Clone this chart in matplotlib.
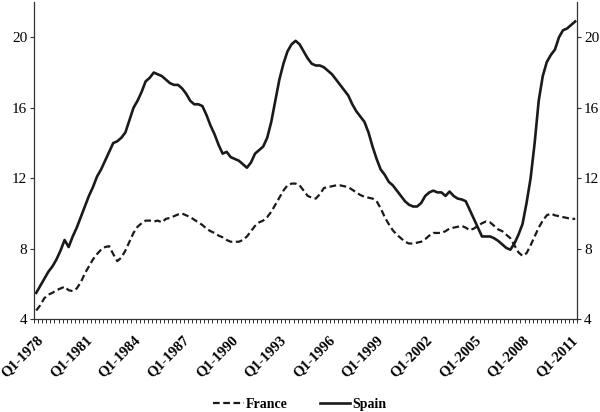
#!/usr/bin/env python3
"""Unemployment rate, France vs Spain, quarterly 1978-2011."""

import matplotlib

matplotlib.use("Agg")
import matplotlib.pyplot as plt
from matplotlib.ticker import FixedLocator, MultipleLocator

START_YEAR = 1978
LABEL_EVERY = 12  # quarters

spain = [
    5.5, 5.9, 6.3, 6.7, 7.0, 7.4, 7.9, 8.5, 8.1, 8.7,
    9.2, 9.8, 10.4, 11.0, 11.5, 12.1, 12.5, 13.0, 13.5, 14.0,
    14.1, 14.3, 14.6, 15.3, 16.0, 16.4, 16.9, 17.5, 17.7, 18.0,
    17.9, 17.8, 17.6, 17.4, 17.3, 17.3, 17.1, 16.8, 16.4, 16.2,
    16.2, 16.1, 15.6, 15.0, 14.5, 13.9, 13.4, 13.5, 13.2, 13.1,
    13.0, 12.8, 12.6, 12.9, 13.4, 13.6, 13.8, 14.3, 15.2, 16.4,
    17.6, 18.5, 19.2, 19.6, 19.8, 19.6, 19.2, 18.8, 18.5, 18.4,
    18.4, 18.3, 18.1, 17.9, 17.6, 17.3, 17.0, 16.7, 16.2, 15.8,
    15.5, 15.2, 14.6, 13.8, 13.1, 12.5, 12.2, 11.8, 11.6, 11.3,
    11.0, 10.7, 10.5, 10.4, 10.4, 10.6, 11.0, 11.2, 11.3, 11.2,
    11.2, 11.0, 11.25, 11.0, 10.85, 10.8, 10.7, 10.2, 9.7, 9.2,
    8.7, 8.7, 8.7, 8.6, 8.45, 8.25, 8.05, 7.95, 8.3, 8.8,
    9.4, 10.6, 12.0, 14.0, 16.4, 17.8, 18.6, 19.0, 19.3, 20.0,
    20.4, 20.5, 20.7, 20.9,
]

france = [
    4.5, 4.8, 5.2, 5.4, 5.5, 5.65, 5.75, 5.85, 5.65, 5.6,
    5.75, 6.1, 6.6, 7.0, 7.4, 7.7, 7.95, 8.1, 8.15, 7.7,
    7.3, 7.5, 7.9, 8.4, 8.9, 9.25, 9.45, 9.6, 9.6, 9.55,
    9.6, 9.5, 9.7, 9.75, 9.85, 9.95, 10.0, 9.9, 9.8, 9.65,
    9.5, 9.35, 9.15, 9.0, 8.9, 8.75, 8.65, 8.5, 8.4, 8.4,
    8.4, 8.5, 8.7, 9.0, 9.3, 9.5, 9.6, 9.8, 10.1, 10.5,
    10.9, 11.3, 11.6, 11.7, 11.7, 11.6, 11.3, 11.0, 10.9, 10.85,
    11.1, 11.45, 11.5, 11.55, 11.6, 11.6, 11.55, 11.5, 11.35, 11.2,
    11.05, 10.95, 10.9, 10.85, 10.7, 10.3, 9.8, 9.4, 9.05, 8.8,
    8.6, 8.4, 8.3, 8.3, 8.35, 8.4, 8.55, 8.75, 8.9, 8.9,
    8.9, 9.0, 9.15, 9.2, 9.25, 9.3, 9.2, 9.05, 9.15, 9.3,
    9.45, 9.55, 9.5, 9.3, 9.1, 9.0, 8.8, 8.6, 8.2, 7.8,
    7.6, 7.75, 8.2, 8.7, 9.2, 9.6, 9.9, 10.0, 9.9, 9.85,
    9.8, 9.75, 9.7, 9.7,
]

y_ticks = [4, 8, 12, 16, 20]
SERIF = ["Liberation Serif", "DejaVu Serif"]


def main() -> int:
    plt.rcParams["font.family"] = SERIF

    n = len(spain)
    x = list(range(n))
    label_pos = list(range(0, n, LABEL_EVERY))
    labels = [f"Q1-{START_YEAR + i // 4}" for i in label_pos]

    fig = plt.figure(figsize=(6.0, 4.12), dpi=100)
    ax = fig.add_axes([0.057, 0.225, 0.905, 0.77])

    ax.plot(x, france, color="#1a1a1a", linewidth=1.6, linestyle=(0, (3, 1.6)),
            label="France")
    ax.plot(x, spain, color="#1a1a1a", linewidth=1.9, label="Spain")

    ax.set_xlim(-0.5, n - 0.5)
    ax.set_ylim(4, 22)

    ax.spines["top"].set_visible(False)
    for side in ("left", "right", "bottom"):
        ax.spines[side].set_color("#333333")
        ax.spines[side].set_linewidth(0.9)

    ax.set_yticks(y_ticks)
    ax.tick_params(axis="y", which="major", direction="out", length=3,
                   width=0.8, color="#333333", labelsize=11, pad=2,
                   left=True, right=True, labelleft=True, labelright=True)

    ax.xaxis.set_major_locator(FixedLocator(label_pos))
    ax.set_xticklabels(labels, rotation=45, ha="right", va="top",
                       rotation_mode="anchor", fontweight="bold", fontsize=10.5)
    ax.tick_params(axis="x", which="major", length=0, pad=10)
    ax.xaxis.set_minor_locator(MultipleLocator(1, offset=0.5))
    ax.tick_params(axis="x", which="minor", direction="out", length=3,
                   width=0.7, color="#333333")

    fig.legend(loc="center", bbox_to_anchor=(0.5, 0.018), ncol=2,
               frameon=False, handlelength=2.2, handletextpad=0.15,
               columnspacing=2.3, prop={"family": SERIF, "weight": "bold",
                                        "size": 10})

    fig.savefig("out.png", dpi=100)
    plt.close(fig)
    return 0


if __name__ == "__main__":
    raise SystemExit(main())
